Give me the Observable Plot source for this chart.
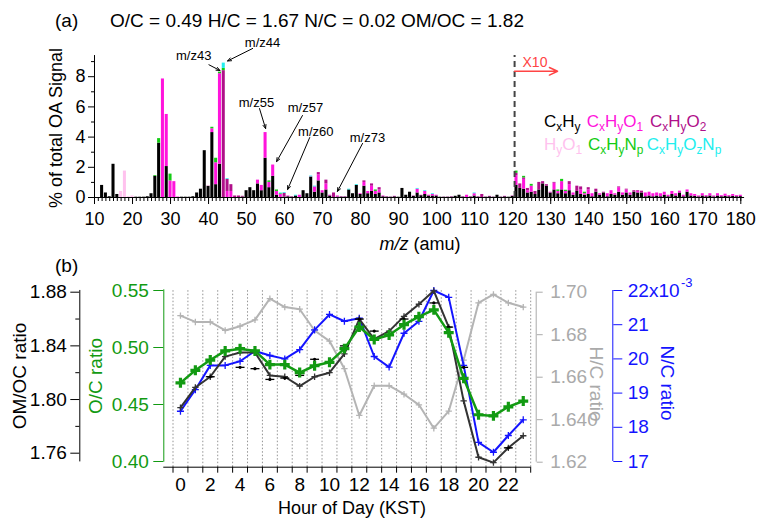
<!DOCTYPE html>
<html><head><meta charset="utf-8">
<script src="https://cdn.jsdelivr.net/npm/d3@7"></script>
<script src="https://cdn.jsdelivr.net/npm/@observablehq/plot@0.6"></script>
<style>
body{margin:0;background:#fff;}
#wrap{position:relative;width:761px;height:522px;}
#wrap svg{position:absolute;left:0;top:0;overflow:visible;}
</style></head><body><div id="wrap"></div>
<script>
// ---------------- DATA: panel (a) mass spectrum, m/z 12..180 (values above m/z 120 shown x10) -------------
const mzStart = 12;
const familyNames = ["CxHy","CxHyO1","CxHyO2","HyO1","CxHyNp","CxHyOzNp"];
const familyColors = ["#000000","#ff14dc","#b0108a","#ffc2ee","#14cc14","#22eeee"];
const cxhy = [
 0.8,0.3,0.05,2.2,0.2,0,0,0,0,
 0.02,0.02,0.02,0.05,0.25,1.4,3.6,0,2.05,0,
 0,0,0.02,0.02,0.02,0.05,0.3,0.55,3.1,0.75,
 4.3,0.85,2.2,0,0,0,0,0,0.03,0.45,
 0.65,0.45,0.9,0.45,2.6,0.65,1.4,0.15,0,0.03,
 0.05,0.03,0.1,0,0.45,0.25,1.35,0.35,1.1,0.3,
 0.5,0.1,0,0.03,0.03,0.03,0.5,0.25,0.8,0.2,
 0.75,0.25,0.4,0.2,0.3,0.05,0.03,0.02,0.05,0.02,
 0.6,0.15,0.35,0.08,0.3,0.12,0.2,0.1,0.1,0.1,
 0.02,0.02,0.02,0.03,0.08,0.15,0.03,0,0.03,0.1,
 0.03,0,0.02,0.05,0.02,0.15,0.02,0.05,0.02,0.08,
 0.8,0.6,0.55,0.3,0.35,0.2,0.5,0.9,0.75,0.3,
 0.5,0.25,0.5,0.25,0.45,0.15,0.4,0.2,0.15,0.2,
 0.05,0.35,0.15,0.3,0.05,0.2,0.15,0.35,0.15,0.3,
 0.15,0.35,0.3,0.3,0.05,0.1,0.05,0.1,0.05,0.15,
 0.05,0.2,0.1,0.3,0.05,0.35,0.1,0.08,0.04,0.1,
 0.05,0.1,0.04,0.1,0.05,0.08,0.05,0.08,0.05,0.06
];
const cxhyo1 = [
 0,0,0,0,0,0,0,0,0,
 0,0,0,0,0,0,0,7.85,3.45,1.1,
 1.05,0.03,0,0,0,0,0,0,0,0,
 0.25,1.45,6.0,0,0.4,0.4,0,0,0,0,
 0,0,0.25,0.35,1.7,0.35,0.75,0.25,0.2,0,
 0.05,0.02,0,0.15,0,0,0.02,0.35,0.4,0.15,
 0.4,0.05,0,0.07,0.02,0.02,0,0,0,0.05,
 0.25,0.15,0.35,0.2,0.2,0.05,0.02,0.01,0.03,0,
 0,0,0,0.02,0.25,0.03,0.2,0.05,0.1,0.05,
 0,0.01,0.01,0.02,0,0,0.02,0.15,0.02,0.15,
 0.02,0,0.01,0.03,0.01,0,0.01,0.03,0,0.02,
 0.65,0,0.65,0.15,0.4,0,0,0,0,0.05,
 0.45,0.15,0.55,0.15,0.4,0.15,0,0.3,0.1,0.3,
 0.2,0,0.1,0,0.2,0.25,0.1,0.3,0.15,0.2,
 0.15,0,0.1,0,0.25,0.25,0.2,0.2,0.2,0.2,
 0.1,0.2,0.15,0.12,0.1,0.15,0.15,0.12,0.06,0.15,
 0.07,0.15,0.06,0.15,0.07,0.14,0.07,0.12,0.07,0.09
];
const cxhyo2 = [
 0,0,0,0,0,0,0,0,0,
 0,0,0,0,0,0,0,0,0,0,
 0,0,0,0,0,0,0,0,0,0,
 0,0,0,8.4,0.8,0.45,0.1,0.1,0.05,0,
 0,0,0,0,0,0,0,0,0,0.25,
 0,0,0,0,0,0,0,0,0.15,0,
 0.25,0,0.3,0,0,0,0,0,0,0,
 0.1,0,0.15,0,0.15,0,0,0,0,0,
 0,0,0,0,0,0,0,0,0,0,
 0,0,0,0,0,0,0,0,0,0,
 0,0.2,0,0,0,0,0,0,0,0,
 0.15,0.3,0.1,0.15,0,0.2,0.5,0.15,0.1,0,
 0.05,0,0,0,0.2,0,0.35,0.2,0,0.15,
 0,0.2,0,0.05,0,0,0,0.05,0,0.05,
 0,0.1,0.05,0.12,0,0,0,0,0,0,
 0,0,0,0,0,0,0,0,0,0,
 0,0,0,0,0,0,0,0,0,0
];
const hyo1 = {17:0.4, 18:1.75, 19:0.05, 20:0.1, 40:0.05};
const cxhynp = {26:0.05,27:0.3,30:0.45,41:0.1,42:0.3,43:0.1,44:0.15,56:0.1,58:0.1,59:0.05,84:0.1,121:0.15,123:0.1,125:0.12,132:0.1,133:0.15,134:0.08,139:0.1};
const cxhyoznp = {44:0.35,45:0.05,59:0.05,60:0.05,63:0.05,67:0.05,68:0.05,77:0.05,79:0.05,95:0.05,97:0.05,99:0.05,110:0.05};
const xTickLabels = [10,20,30,40,50,60,70,80,90,100,110,120,130,140,150,160,170,180];
const yTickLabels = [0,2,4,6,8];
const annoLabels = ["m/z43","m/z44","m/z55","m/z57","m/z60","m/z73"];
const annoTextX = [36.1, 54.2, 52.6, 65.5, 68.2, 81.8];
const annoTextY = [9.40, 10.26, 6.29, 5.96, 4.37, 3.97];
const annoFromX = [40.1, 51.6, 53.4, 64.7, 66.6, 80.5];
const annoFromY = [8.79, 9.87, 5.89, 5.43, 3.97, 3.58];
const annoToX = [43.0, 45.0, 55.0, 57.9, 60.8, 73.9];
const annoToY = [8.41, 9.04, 4.57, 2.38, 0.53, 0.40];
const x10Split = 120.5;

// ---------------- DATA: panel (b) diurnal cycles ----------------
const hours = [0,1,2,3,4,5,6,7,8,9,10,11,12,13,14,15,16,17,18,19,20,21,22,23];
const omoc = [1.794,1.809,1.817,1.832,1.835,1.835,1.818,1.817,1.810,1.817,1.820,1.834,1.860,1.845,1.851,1.862,1.871,1.881,1.854,1.799,1.757,1.753,1.764,1.773];
const oc   = [0.469,0.480,0.489,0.497,0.499,0.497,0.485,0.485,0.478,0.484,0.487,0.499,0.518,0.507,0.511,0.520,0.527,0.533,0.513,0.473,0.441,0.440,0.448,0.453];
const hc   = [1.689,1.686,1.686,1.682,1.684,1.687,1.697,1.693,1.692,1.682,1.677,1.664,1.642,1.656,1.656,1.652,1.647,1.636,1.644,1.668,1.695,1.699,1.695,1.693];
const nc   = [18.47,19.10,19.81,19.81,19.93,20.23,20.10,20.00,20.27,20.85,21.30,21.10,21.19,20.07,19.76,20.75,21.10,22.00,21.80,19.81,17.56,17.27,17.76,18.22]; // x10^-3
const markHours = [2,4,5,6,7,8,9,11,12,13,15,17,18,19,22];
const markOmoc  = [1.817,1.824,1.823,1.815,1.816,1.818,1.830,1.840,1.860,1.851,1.860,1.872,1.854,1.824,1.764];
const hourLabels = [0,2,4,6,8,10,12,14,16,18,20,22];
const hourBounds = [-0.5,0.5,1.5,2.5,3.5,4.5,5.5,6.5,7.5,8.5,9.5,10.5,11.5,12.5,13.5,14.5,15.5,16.5,17.5,18.5,19.5,20.5,21.5,22.5,23.5];
const omocTicks = [1.76,1.80,1.84,1.88], omocMinor = [1.78,1.82,1.86];
const ocTicks = [0.40,0.45,0.50,0.55];
const hcTicks = [1.62,1.64,1.66,1.68,1.70], hcTickLabels = ["1.62","1.640","1.66","1.68","1.70"];
const ncTicks = [17,18,19,20,21,22];

// ---------------- BUILD ----------------
const W = 761, H = 522;
const FONT = '"Liberation Sans", Arial, Helvetica, sans-serif';
const wrap = document.getElementById("wrap");
const mzList = cxhy.map((_, i) => mzStart + i);
const famVals = [cxhy, cxhyo1, cxhyo2, mzList.map(m => hyo1[m] || 0), mzList.map(m => cxhynp[m] || 0), mzList.map(m => cxhyoznp[m] || 0)];
const bars = [];
mzList.forEach((mz, i) => {
  let acc = 0;
  familyNames.forEach((f, k) => {
    const v = famVals[k][i] || 0;
    if (v > 0) { bars.push({mz, family: f, y1: acc, y2: acc + v}); acc += v; }
  });
});
const anno = annoLabels.map((l, i) => ({l, tx: annoTextX[i], ty: annoTextY[i], x1: annoFromX[i], y1: annoFromY[i], x2: annoToX[i], y2: annoToY[i]}));
function st(color) { return {background: "transparent", fontFamily: FONT, color, overflow: "visible"}; }
function put(el) { wrap.appendChild(el); }

// panel (a)
put(Plot.plot({
  width: W, height: H, marginLeft: 94, marginRight: W - 746, marginTop: 197 - 9.3 * 15.1, marginBottom: H - 197,
  x: {domain: [10, 181.5], label: null}, y: {domain: [0, 9.3], label: null},
  color: {domain: familyNames, range: familyColors},
  style: st("#000"),
  marks: [
    Plot.rect(bars, {x1: d => d.mz - 0.4, x2: d => d.mz + 0.4, y1: "y1", y2: "y2", fill: "family"}),
    Plot.ruleX([x10Split], {y1: 0, y2: 9.4, stroke: "#444", strokeWidth: 2, strokeDasharray: "6,4"}),
    Plot.arrow([0], {x1: x10Split, x2: 131.8, y1: 8.36, y2: 8.36, stroke: "#ff4444", strokeWidth: 1.5, headLength: 9, headAngle: 50}),
    Plot.arrow(anno, {x1: "x1", y1: "y1", x2: "x2", y2: "y2", stroke: "#000", strokeWidth: 1, headLength: 6, headAngle: 45}),
    Plot.text(anno, {x: "tx", y: "ty", text: "l", fontSize: 13, fill: "#000"}),
    Plot.ruleX([10], {y1: 0, y2: 9.4, stroke: "#000"}),
    Plot.ruleY([0], {x1: 10, x2: 181, stroke: "#000"}),
    Plot.axisY(yTickLabels, {anchor: "left", tickSize: 6, tickPadding: 3, fontSize: 18, label: null}),
    Plot.axisY([1,3,5,7,9], {anchor: "left", tickSize: 3, fill: "none", label: null}),
    Plot.axisX(xTickLabels, {anchor: "bottom", tickSize: 7, tickPadding: 8, fontSize: 18, label: null}),
    Plot.axisX(mzList.concat([10,11]), {anchor: "bottom", tickSize: 4, fill: "none", label: null})
  ]
}));

// panel (b) layers
const xB = {domain: [-0.5, 23.5], label: null};
const bm = {marginLeft: 172.5, marginRight: W - 530.2};
const rows = hours.map((h, i) => ({h, omoc: omoc[i], oc: oc[i], hc: hc[i], nc: nc[i]}));
const marks = markHours.map((h, i) => ({h, v: markOmoc[i]}));

// frame: grid + x axis
put(Plot.plot({
  width: W, height: H, ...bm, marginTop: 290, marginBottom: H - 466.7,
  x: xB, y: {domain: [0, 1], axis: null}, style: st("#000"),
  marks: [
    Plot.ruleX(hourBounds, {y1: 0, y2: 1, stroke: "#777", strokeWidth: 0.8, strokeDasharray: "1.5,2"}),
    Plot.ruleY([0], {x1: -1.12, x2: 23.5, stroke: "#000"}),
    Plot.axisX(hourBounds, {anchor: "bottom", tickSize: 6, fill: "none", label: null}),
    Plot.axisX(hourLabels, {anchor: "bottom", tickSize: 0, tickPadding: 10, fontSize: 19, label: null})
  ]
}));

// H/C (gray, right)
put(Plot.plot({
  width: W, height: H, ...bm, marginTop: 291.7, marginBottom: H - 461.7,
  x: {...xB, axis: null}, y: {domain: [1.62, 1.70], label: null}, style: st("#aaaaaa"),
  marks: [
    Plot.ruleX([23.5], {y1: 1.62, y2: 1.70, dx: 5.5, stroke: "#aaaaaa"}),
    Plot.axisY(hcTicks, {anchor: "right", dx: 5.5, tickSize: 6, tickPadding: 8, fontSize: 19, label: null, tickFormat: d => hcTickLabels[hcTicks.indexOf(d)]}),
    Plot.line(rows, {x: "h", y: "hc", stroke: "#b4b4b4", strokeWidth: 2}),
    Plot.dot(rows, {x: "h", y: "hc", symbol: "plus", r: 2.2, stroke: "#b4b4b4", strokeWidth: 1.3})
  ]
}));

// N/C (blue, far right)
put(Plot.plot({
  width: W, height: H, ...bm, marginTop: 290, marginBottom: H - 461,
  x: {...xB, axis: null}, y: {domain: [17, 22], label: null}, style: st("#1414ff"),
  marks: [
    Plot.ruleX([23.5], {y1: 17, y2: 22, dx: 82.1, stroke: "#1414ff"}),
    Plot.axisY(ncTicks, {anchor: "right", dx: 82.1, tickSize: 9, tickPadding: 6, fontSize: 19, label: null, tickFormat: d => d === 22 ? "22x10" : String(d)}),
    Plot.line(rows, {x: "h", y: "nc", stroke: "#1414ff", strokeWidth: 2}),
    Plot.dot(rows, {x: "h", y: "nc", symbol: "plus", r: 2.4, stroke: "#1414ff", strokeWidth: 1.3})
  ]
}));

// OM/OC (black, far left)
put(Plot.plot({
  width: W, height: H, ...bm, marginTop: 291.7, marginBottom: H - 452.7,
  x: {...xB, axis: null}, y: {domain: [1.76, 1.88], label: null}, style: st("#000"),
  marks: [
    Plot.ruleX([-0.5], {y1: 1.7535, y2: 1.8813, dx: -93.2, stroke: "#000"}),
    Plot.axisY(omocTicks, {anchor: "left", dx: -93.2, tickSize: 9, tickPadding: 4, fontSize: 19, label: null, tickFormat: d3.format(".2f")}),
    Plot.axisY(omocMinor, {anchor: "left", dx: -93.2, tickSize: 4, fill: "none", label: null}),
    Plot.line(rows, {x: "h", y: "omoc", stroke: "#333", strokeWidth: 2}),
    Plot.dot(rows, {x: "h", y: "omoc", symbol: "plus", r: 2.2, stroke: "#333", strokeWidth: 1.3}),
    Plot.link(marks, {x1: d => d.h - 0.3, x2: d => d.h + 0.3, y1: "v", y2: "v", stroke: "#000", strokeWidth: 1.3}),
    Plot.dot(marks, {x: "h", y: "v", r: 1.6, fill: "#000"})
  ]
}));

// O/C (green)
put(Plot.plot({
  width: W, height: H, ...bm, marginTop: 290, marginBottom: H - 461,
  x: {...xB, axis: null}, y: {domain: [0.40, 0.55], label: null}, style: st("#129a12"),
  marks: [
    Plot.ruleX([-0.5], {y1: 0.3994, y2: 0.5506, dx: -9.2, stroke: "#129a12"}),
    Plot.axisY(ocTicks, {anchor: "left", dx: -9.2, tickSize: 10, tickPadding: 5, fontSize: 19, label: null, tickFormat: d3.format(".2f")}),
    Plot.line(rows, {x: "h", y: "oc", stroke: "#129a12", strokeWidth: 2.5}),
    Plot.dot(rows, {x: "h", y: "oc", symbol: "plus", r: 3.3, stroke: "#129a12", strokeWidth: 3.2})
  ]
}));

// ---------------- text overlay ----------------
const ov = d3.select(wrap).append("svg").attr("width", W).attr("height", H).style("font-family", FONT);
function label(parts, x, y, o = {}) {
  const size = o.size || 18;
  const t = ov.append("text").attr("x", x).attr("y", y).attr("font-size", size)
    .attr("fill", o.fill || "#000").attr("text-anchor", o.anchor || "start");
  if (o.rotate) t.attr("transform", `rotate(${o.rotate},${x},${y})`);
  if (o.baseline) t.attr("dominant-baseline", o.baseline);
  let shift = 0;
  parts.forEach(p => {
    const [s, kind] = Array.isArray(p) ? p : [p, ""];
    const target = kind === "sub" ? 4 : kind === "sup" ? -7 : 0;
    const ts = t.append("tspan").text(s).attr("dy", target - shift);
    if (kind === "sub" || kind === "sup") ts.attr("font-size", size * 0.7);
    if (kind === "it") ts.attr("font-style", "italic");
    shift = target;
  });
  return t;
}
label(["(a)"], 55, 27, {size: 19});
label(["O/C = 0.49 H/C = 1.67 N/C = 0.02 OM/OC = 1.82"], 110, 27, {size: 19});
label(["% of total OA Signal"], 56, 128, {size: 18, rotate: -90, anchor: "middle", baseline: "central"});
label([["m/z", "it"], " (amu)"], 420, 250, {size: 18, anchor: "middle"});
label(["X10"], 535, 67, {size: 14, fill: "#ff4444", anchor: "middle"});
const sub = s => [s, "sub"];
label(["C", sub("x"), "H", sub("y")], 544, 127, {size: 17, fill: familyColors[0]});
label(["C", sub("x"), "H", sub("y"), "O", sub("1")], 586.7, 127, {size: 17, fill: familyColors[1]});
label(["C", sub("x"), "H", sub("y"), "O", sub("2")], 650, 127, {size: 17, fill: familyColors[2]});
label(["H", sub("y"), "O", sub("1")], 544, 150, {size: 17, fill: familyColors[3]});
label(["C", sub("x"), "H", sub("y"), "N", sub("p")], 588, 150, {size: 17, fill: familyColors[4]});
label(["C", sub("x"), "H", sub("y"), "O", sub("z"), "N", sub("p")], 646.7, 150, {size: 17, fill: familyColors[5]});
label(["(b)"], 55, 272, {size: 19});
label(["OM/OC ratio"], 19, 376, {size: 19, rotate: -90, anchor: "middle", baseline: "central"});
label(["O/C ratio"], 95, 376, {size: 19, rotate: -90, anchor: "middle", baseline: "central", fill: "#129a12"});
label(["H/C ratio"], 597, 384, {size: 19, rotate: 90, anchor: "middle", baseline: "central", fill: "#aaaaaa"});
label(["N/C ratio"], 668, 383, {size: 19, rotate: 90, anchor: "middle", baseline: "central", fill: "#1414ff"});
label(["-3"], 681, 287, {size: 13, fill: "#1414ff"});
label(["Hour of Day (KST)"], 352, 514, {size: 18, anchor: "middle"});
</script></body></html>
